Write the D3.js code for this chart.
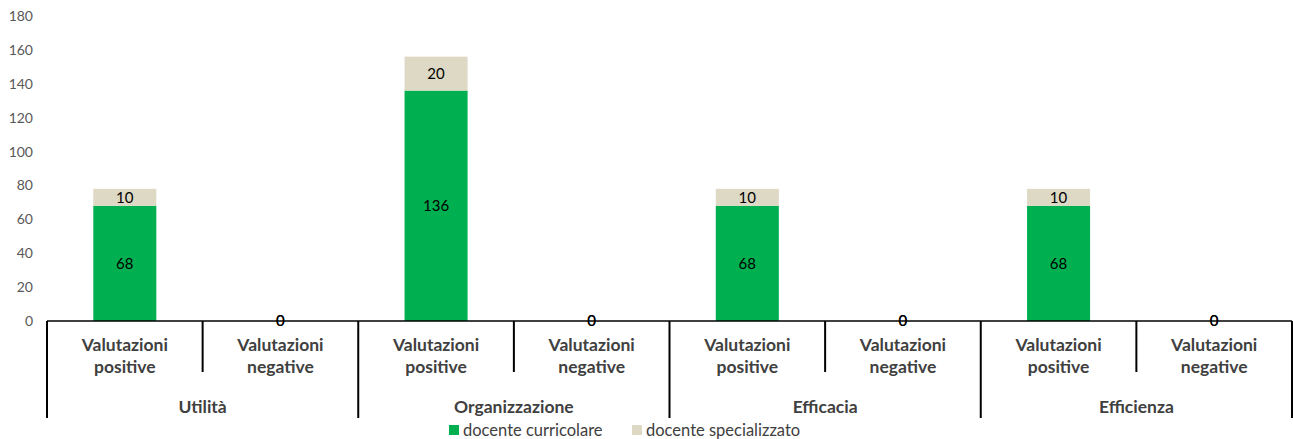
<!DOCTYPE html>
<html>
<head>
<meta charset="utf-8">
<script src="https://cdn.jsdelivr.net/npm/d3@7"></script>
<style>
  body { margin: 0; background: #fff; }
  svg { display: block; font-family: Lato, "Open Sans", sans-serif; }
</style>
</head>
<body>
<div id="chart"></div>
<script>
// Chart data
const groups = ["Utilità", "Organizzazione", "Efficacia", "Efficienza"];
const subcats = ["Valutazioni positive", "Valutazioni negative"];
const curricolare = [68, 0, 136, 0, 68, 0, 68, 0];
const specializzato = [10, 0, 20, 0, 10, 0, 10, 0];
const seriesNames = ["docente curricolare", "docente specializzato"];
const colors = ["#00B050", "#DDD9C4"];
const yTicks = [0, 20, 40, 60, 80, 100, 120, 140, 160, 180];

const width = 1293, height = 439;
const margin = { top: 16, right: 1, bottom: 118, left: 47 };
const plotW = width - margin.left - margin.right;
const plotH = height - margin.top - margin.bottom;

const svg = d3.select("#chart").append("svg")
    .attr("width", width)
    .attr("height", height);

const g = svg.append("g")
    .attr("transform", `translate(${margin.left},${margin.top})`);

// one band per (group, subcategory) pair
const keys = [];
groups.forEach(gr => subcats.forEach(s => keys.push(gr + "|" + s)));

const rows = keys.map((k, i) => ({ key: k, c: curricolare[i], s: specializzato[i] }));

const xScale = d3.scaleBand().domain(keys).range([0, plotW]).paddingInner(0).paddingOuter(0);
const yScale = d3.scaleLinear().domain([0, 180]).range([plotH, 0]);

// y axis labels only (no line)
const yAxis = g.append("g")
    .call(d3.axisLeft(yScale).tickValues(yTicks).tickSize(0).tickPadding(14));
yAxis.select(".domain").remove();
yAxis.selectAll("text")
    .style("font-size", "14px")
    .style("fill", "#595959")
    .style("font-family", "Lato, sans-serif");

// stacked bars
const stack = d3.stack().keys(["c", "s"]);
const stacked = stack(rows);
const barW = xScale.bandwidth() * 0.405;

stacked.forEach((layer, li) => {
    g.selectAll(".bar" + li)
        .data(layer)
        .enter().append("rect")
        .attr("x", d => xScale(d.data.key) + (xScale.bandwidth() - barW) / 2)
        .attr("y", d => yScale(d[1]))
        .attr("width", barW)
        .attr("height", d => yScale(d[0]) - yScale(d[1]))
        .attr("fill", colors[li]);
});

// x axis line
g.append("line")
    .attr("x1", 0).attr("x2", plotW)
    .attr("y1", plotH).attr("y2", plotH)
    .attr("stroke", "#000").attr("stroke-width", 1.5);

// data labels
stacked.forEach((layer, li) => {
    g.selectAll(".lbl" + li)
        .data(layer)
        .enter().append("text")
        .attr("x", d => xScale(d.data.key) + xScale.bandwidth() / 2)
        .attr("y", d => (yScale(d[0]) + yScale(d[1])) / 2)
        .attr("dy", "0.35em")
        .attr("text-anchor", "middle")
        .style("font-size", "15px")
        .style("fill", "#000")
        .text(d => d[1] - d[0]);
});

// category dividers
const subDivH = 51, groupDivH = 97;
keys.forEach((k, i) => {
    const x = xScale(k);
    const isGroup = i % 2 === 0;
    g.append("line")
        .attr("x1", x).attr("x2", x)
        .attr("y1", plotH).attr("y2", plotH + (isGroup ? groupDivH : subDivH))
        .attr("stroke", "#000").attr("stroke-width", 2);
});
g.append("line")
    .attr("x1", plotW).attr("x2", plotW)
    .attr("y1", plotH).attr("y2", plotH + groupDivH)
    .attr("stroke", "#000").attr("stroke-width", 2);

// sub category labels
keys.forEach((k, i) => {
    const words = subcats[i % 2].split(" ");
    const t = g.append("text")
        .attr("x", xScale(k) + xScale.bandwidth() / 2)
        .attr("y", plotH + 30)
        .attr("text-anchor", "middle")
        .style("font-size", "17.5px")
        .style("font-weight", "bold")
        .style("fill", "#404040");
    words.forEach((w, wi) => {
        t.append("tspan")
            .attr("x", xScale(k) + xScale.bandwidth() / 2)
            .attr("dy", wi === 0 ? 0 : 22)
            .text(w);
    });
});

// group labels
groups.forEach((gr, gi) => {
    const x0 = xScale(gr + "|" + subcats[0]);
    g.append("text")
        .attr("x", x0 + xScale.bandwidth())
        .attr("y", plotH + 92)
        .attr("text-anchor", "middle")
        .style("font-size", "17.5px")
        .style("font-weight", "bold")
        .style("fill", "#404040")
        .text(gr);
});

// legend
const legend = svg.append("g").attr("transform", `translate(449,${height - 9})`);
const legendOffsets = [0, 183];
seriesNames.forEach((name, i) => {
    const item = legend.append("g").attr("transform", `translate(${legendOffsets[i]},0)`);
    item.append("rect")
        .attr("x", 0).attr("y", -5)
        .attr("width", 10).attr("height", 10)
        .attr("fill", colors[i]);
    item.append("text")
        .attr("x", 14).attr("y", 0)
        .attr("dy", "0.35em")
        .style("font-size", "16.5px")
        .style("fill", "#404040")
        .text(name);
});
</script>
</body>
</html>
